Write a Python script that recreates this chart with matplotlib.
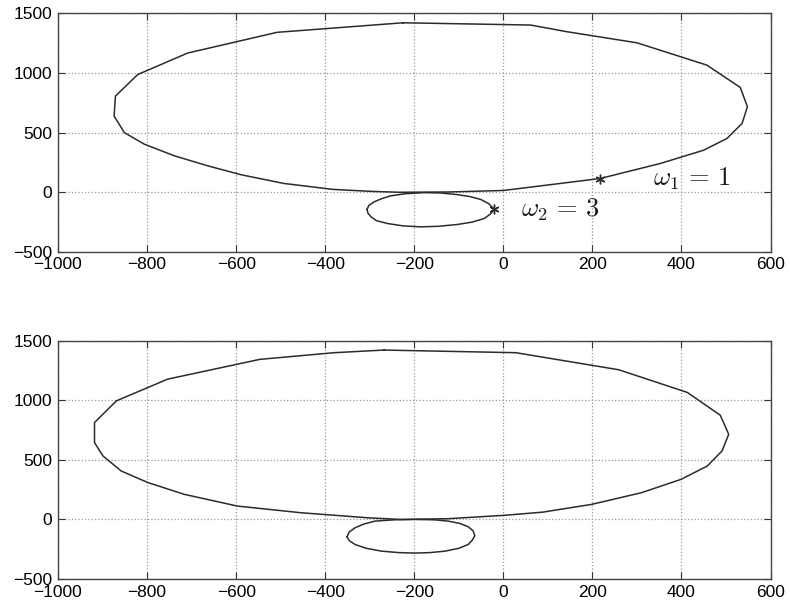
import matplotlib
matplotlib.use("Agg")
import matplotlib.pyplot as plt

plt.rcParams['font.family'] = ['Liberation Sans', 'DejaVu Sans']
plt.rcParams['mathtext.fontset'] = 'cm'

# upper plot: large loop
top_big_x = [-225, 61, 143, 300, 457, 532, 548, 536, 502, 450, 353, 218, 128, 0,
             -126, -233, -300, -382, -493, -589, -664, -739, -806, -851, -874,
             -871, -821, -709, -508, -225]
top_big_y = [1421, 1402, 1346, 1253, 1066, 879, 717, 577, 451, 353, 242, 116, 74, 15,
             2, 0, 8, 24, 74, 147, 222, 306, 403, 500, 639,
             806, 987, 1167, 1341, 1421]

# upper plot: small loop
top_small_x = [-306, -302, -290, -272, -253, -220, -178, -140, -103, -75, -51, -33, -20,
               -30, -43, -70, -103, -145, -185, -225, -260, -285, -297, -304, -306]
top_small_y = [-144, -110, -80, -52, -30, -12, -3, -6, -20, -36, -60, -95, -144,
               -185, -220, -250, -270, -285, -290, -282, -262, -238, -206, -175, -144]

# marked points
mark_x = [218, -20]
mark_y = [112, -144]
mark_labels = [r'$\omega_1\,=\,1$', r'$\omega_2\,=\,3$']
label_x = [335, 40]
label_y = [60, -206]

# lower plot: large loop
bot_big_x = [-268, 28, 259, 413, 487, 506, 491, 458, 399, 310, 198, 88, 0,
             -125, -231, -305, -454, -597, -716, -798, -858, -899, -918, -918,
             -869, -754, -547, -380, -268]
bot_big_y = [1420, 1398, 1255, 1065, 874, 714, 574, 448, 336, 224, 126, 61, 34,
             6, 0, 14, 56, 112, 210, 309, 406, 532, 644, 812,
             994, 1176, 1342, 1398, 1420]

# lower plot: small loop
bot_small_x = [-351, -346, -333, -313, -288, -245, -198, -155, -124, -98, -79, -68, -64,
               -70, -79, -100, -131, -165, -198, -235, -273, -308, -333, -346, -351]
bot_small_y = [-145, -105, -70, -38, -14, -3, 0, -3, -14, -33, -61, -95, -136,
               -175, -210, -242, -266, -278, -282, -278, -266, -242, -210, -178, -145]

xticks = list(range(-1000, 601, 200))
yticks = list(range(-500, 1501, 500))

line_col = '#2b2b2b'

fig = plt.figure(figsize=(7.9, 6.07), dpi=100)
ax1 = fig.add_axes([0.0734, 0.585, 0.902, 0.393])
ax2 = fig.add_axes([0.0734, 0.046, 0.902, 0.393])

ax1.plot(top_big_x, top_big_y, color=line_col, lw=1.1)
ax1.plot(top_small_x, top_small_y, color=line_col, lw=1.1)
ax1.plot(mark_x, mark_y, linestyle='none', marker=(6, 2, 0), markersize=7,
         color=line_col, markeredgewidth=1.0)
for lx, ly, txt in zip(label_x, label_y, mark_labels):
    ax1.text(lx, ly, txt, fontsize=19, va='baseline', ha='left', color='#1a1a1a')

ax2.plot(bot_big_x, bot_big_y, color=line_col, lw=1.1)
ax2.plot(bot_small_x, bot_small_y, color=line_col, lw=1.1)

for ax in (ax1, ax2):
    ax.set_xlim(-1000, 600)
    ax.set_ylim(-500, 1500)
    ax.set_xticks(xticks)
    ax.set_yticks(yticks)
    ax.grid(True, linestyle=':', color='#999999', lw=0.9)
    ax.tick_params(direction='in', top=True, right=True, length=5,
                   labelsize=12.5, color='#333333', pad=4)
    for s in ax.spines.values():
        s.set_color('#444444')
        s.set_linewidth(1.0)

fig.savefig('out.png', dpi=100)
